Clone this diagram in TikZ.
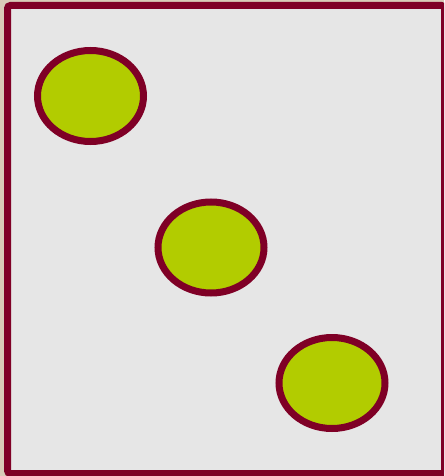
\documentclass[tikz,border=0pt]{standalone}
\usetikzlibrary{shapes.geometric}
\definecolor{frame}{HTML}{7F0026}
\definecolor{blob}{HTML}{B2CC00}
\definecolor{panel}{HTML}{E6E6E6}
\definecolor{outside}{HTML}{D9CBB8}
\tikzset{
  blobnode/.style={ellipse, draw=frame, fill=blob, line width=7pt,
    minimum width=106pt, minimum height=91pt, inner sep=0pt},
  panelbox/.style={draw=frame, fill=panel, line width=7pt, rounded corners=3pt}
}
\begin{document}
\begin{tikzpicture}[x=1pt,y=-1pt]
\useasboundingbox (0,0) rectangle (444,476);
\fill[outside] (0,0) rectangle (444,476);
\begin{scope}
\clip (0,0) rectangle (444,476);
\draw[panelbox] (7.5,5.5) rectangle (444.5,473.5);
\end{scope}
\node[blobnode] (e1) at (90.5,96) {};
\node[blobnode] (e2) at (211,247.5) {};
\node[blobnode] (e3) at (332,383) {};
\end{tikzpicture}
\end{document}
